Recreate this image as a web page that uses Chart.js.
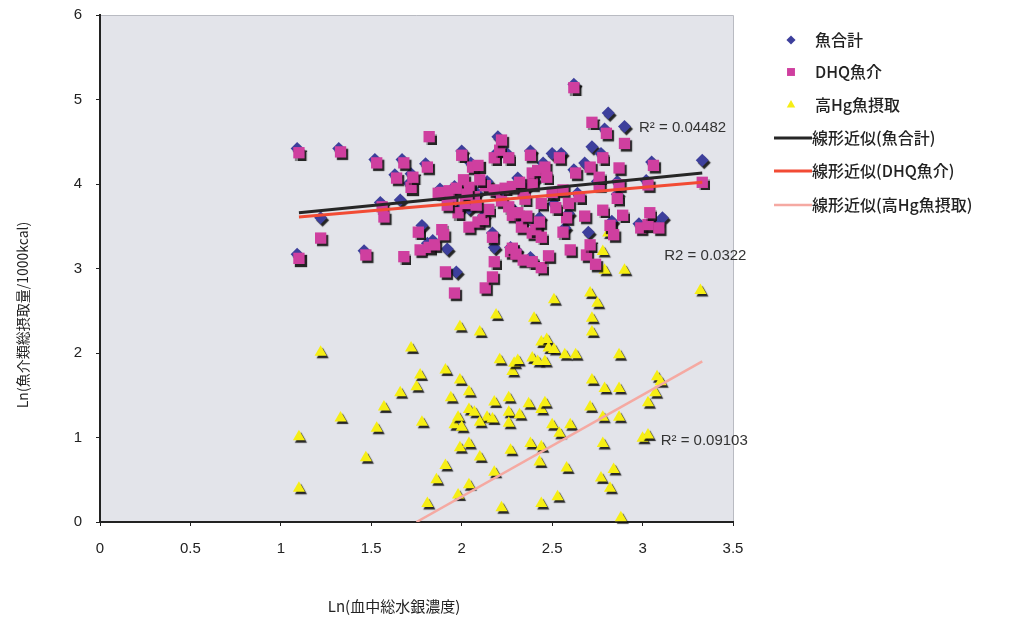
<!DOCTYPE html>
<html lang="ja">
<head>
<meta charset="utf-8">
<title>魚介類摂取量と血中総水銀濃度</title>
<script src="https://cdn.jsdelivr.net/npm/chart.js@4.4.1/dist/chart.umd.min.js"></script>
<style>
  html, body { margin: 0; padding: 0; background: #ffffff; }
  #wrap { position: relative; width: 1017px; height: 634px; }
</style>
</head>
<body>
<div id="wrap"><canvas id="chart" width="1017" height="634"></canvas></div>
<script>
// 系列名
const seriesNames = ['魚合計', 'DHQ魚介', '高Hg魚摂取', '線形近似(魚合計)', '線形近似(DHQ魚介)', '線形近似(高Hg魚摂取)'];

// DHQ魚介 (ピンクの四角)
const dhqX = [1.10, 1.10, 1.22, 1.33, 1.47, 1.53, 1.56, 1.57, 1.64, 1.68, 1.68, 1.72, 1.73, 1.76, 1.77, 1.81, 1.82, 1.82, 1.85, 1.87,
  1.89, 1.89, 1.90, 1.91, 1.93, 1.94, 1.96, 1.98, 2.00, 2.01, 2.02, 2.04, 2.04, 2.06, 2.07, 2.09, 2.09, 2.12, 2.13, 2.13,
  2.15, 2.17, 2.17, 2.18, 2.18, 2.18, 2.21, 2.22, 2.22, 2.24, 2.26, 2.26, 2.27, 2.28, 2.28, 2.30, 2.31, 2.33, 2.34, 2.34,
  2.36, 2.38, 2.39, 2.39, 2.39, 2.39, 2.41, 2.42, 2.43, 2.44, 2.44, 2.44, 2.46, 2.47, 2.50, 2.54, 2.56, 2.56, 2.59, 2.60,
  2.58, 2.62, 2.63, 2.69, 2.71, 2.71, 2.72, 2.76, 2.76, 2.78, 2.78, 2.80, 2.82, 2.84, 2.86, 2.87, 2.87, 2.89, 2.90, 2.99,
  3.03, 3.03, 3.04, 3.06, 3.09, 3.33, 1.97, 2.03, 2.08, 2.10, 1.92, 2.28, 2.32, 2.35, 2.52, 2.65, 2.68, 2.74, 2.48];
const dhqY = [4.37, 3.12, 3.36, 4.38, 3.16, 4.25, 3.73, 3.61, 4.07, 4.25, 3.14, 3.96, 4.08, 3.43, 3.22, 4.20, 4.56, 3.25, 3.28, 3.89,
  3.90, 3.46, 3.40, 2.96, 3.92, 3.81, 2.71, 3.66, 4.34, 4.05, 3.77, 3.49, 3.96, 4.20, 3.85, 4.22, 3.55, 3.58, 2.77, 3.98,
  3.70, 2.90, 3.37, 3.08, 4.31, 3.93, 4.40, 4.52, 3.80, 3.95, 4.31, 3.73, 3.20, 3.63, 3.24, 3.17, 3.66, 3.49, 3.10, 3.90,
  3.62, 4.34, 4.13, 4.00, 3.42, 3.08, 3.46, 4.16, 3.55, 3.77, 3.37, 3.01, 4.20, 4.08, 3.90, 4.31, 3.93, 3.43, 3.77, 3.22,
  3.60, 5.14, 4.13, 3.16, 3.28, 4.20, 4.73, 3.99, 4.08, 4.31, 3.69, 4.60, 3.51, 3.40, 3.83, 4.19, 3.99, 3.63, 4.48, 3.48,
  3.52, 3.99, 3.66, 4.22, 3.48, 4.02, 3.95, 3.88, 3.75, 4.05, 3.75, 3.97, 4.02, 3.82, 3.72, 3.85, 3.62, 3.05, 3.15];

// 魚合計 (青いひし形)
const totalX = [1.09, 1.09, 1.22, 1.32, 1.46, 1.52, 1.55, 1.66, 1.63, 1.67, 1.71, 1.72, 1.78, 1.80, 1.81, 1.84, 1.88, 1.92, 1.97, 1.99,
  2.00, 2.03, 2.04, 2.05, 2.08, 2.12, 2.14, 2.17, 2.18, 2.19, 2.20, 2.21, 2.25, 2.27, 2.29, 2.30, 2.33, 2.35, 2.38, 2.38,
  2.40, 2.41, 2.43, 2.45, 2.46, 2.50, 2.55, 2.57, 2.59, 2.62, 2.62, 2.68, 2.70, 2.72, 2.75, 2.77, 2.81, 2.79, 2.83, 2.86,
  2.86, 2.90, 2.98, 3.02, 3.05, 3.11, 3.08, 3.33, 1.96, 2.07, 2.31, 2.51, 2.64];
const totalY = [4.42, 3.17, 3.60, 4.42, 3.21, 4.29, 3.78, 3.81, 4.11, 4.29, 4.01, 4.12, 3.51, 4.24, 3.30, 3.33, 3.94, 3.23, 2.96, 3.71,
  4.39, 3.81, 3.71, 4.25, 3.90, 3.62, 4.03, 3.42, 3.25, 4.36, 4.56, 3.85, 4.36, 3.25, 3.69, 3.22, 3.54, 3.95, 4.39, 3.13,
  4.05, 3.51, 3.60, 4.25, 4.13, 4.36, 4.36, 3.48, 3.65, 5.18, 4.17, 4.25, 3.43, 4.44, 4.03, 4.36, 4.84, 4.65, 3.56, 3.88,
  4.03, 4.68, 3.53, 4.04, 4.26, 3.60, 3.52, 4.28, 3.97, 3.79, 4.07, 3.77, 3.89];

// 高Hg魚摂取 (黄色の三角)
const hgX = [1.10, 1.10, 1.22, 1.33, 1.47, 1.53, 1.57, 1.66, 1.72, 1.75, 1.77, 1.78, 1.81, 1.86, 1.91, 1.91, 1.94, 1.96, 1.98, 1.98,
  1.99, 1.99, 1.99, 2.00, 2.04, 2.04, 2.04, 2.04, 2.07, 2.10, 2.10, 2.14, 2.17, 2.18, 2.18, 2.19, 2.21, 2.22, 2.26, 2.26,
  2.26, 2.27, 2.28, 2.29, 2.31, 2.32, 2.38, 2.39, 2.40, 2.42, 2.43, 2.44, 2.44, 2.44, 2.44, 2.46, 2.46, 2.47, 2.48, 2.50,
  2.51, 2.51, 2.53, 2.54, 2.57, 2.58, 2.60, 2.63, 2.71, 2.71, 2.72, 2.72, 2.72, 2.75, 2.77, 2.78, 2.78, 2.78, 2.79, 2.79,
  2.81, 2.82, 2.84, 2.87, 2.87, 2.87, 2.88, 2.90, 3.00, 3.03, 3.03, 3.07, 3.08, 3.10, 3.32, 2.37, 2.10];
const hgY = [1.01, 0.40, 2.01, 1.23, 0.76, 1.11, 1.36, 1.53, 2.06, 1.60, 1.74, 1.18, 0.22, 0.50, 1.80, 0.67, 1.47, 1.15, 1.24, 0.32,
  2.31, 1.68, 0.88, 1.12, 1.54, 1.33, 0.93, 0.44, 1.30, 2.25, 0.77, 1.24, 1.22, 1.42, 0.59, 2.45, 1.92, 0.17, 1.47, 1.30,
  1.17, 0.85, 1.78, 1.88, 1.91, 1.27, 0.93, 1.94, 2.41, 1.90, 0.71, 2.13, 1.33, 0.89, 0.22, 1.41, 1.90, 2.16, 2.06, 1.15,
  2.63, 2.04, 0.30, 1.05, 1.98, 0.64, 1.15, 1.98, 2.71, 1.36, 2.41, 2.25, 1.68, 2.59, 0.52, 3.20, 1.24, 0.93, 2.98, 1.58,
  3.42, 0.40, 0.62, 1.98, 1.58, 1.24, 0.05, 2.98, 0.99, 1.03, 1.41, 1.53, 1.72, 1.66, 2.74, 1.40, 1.18];

// 近似直線の両端
const trendTotalX = [1.10, 3.33];
const trendTotalY = [3.66, 4.13];
const trendDhqX = [1.10, 3.33];
const trendDhqY = [3.61, 4.02];
const trendHgX = [1.75, 3.33];
const trendHgY = [0.00, 1.90];

// R² 表示 (データ座標)
const r2Labels = ['R² = 0.04482', 'R2 = 0.0322', 'R² = 0.09103'];
const r2X = [2.98, 3.12, 3.10];
const r2Y = [4.67, 3.15, 0.96];

function toPoints(xs, ys) {
    return xs.map((x, i) => ({ x: x, y: ys[i] }));
}

const cjk = '"Noto Sans CJK JP", "Noto Sans", sans-serif';
const narrow = '"Liberation Sans Narrow", "Liberation Sans", Arial, sans-serif';

// 背景・枠・影・凡例・ラベルの描画
const decorPlugin = {
    id: 'decor',
    beforeDraw(chart) {
        const ctx = chart.ctx;
        const a = chart.chartArea;
        ctx.save();
        ctx.fillStyle = '#e3e4ea';
        ctx.fillRect(a.left, a.top, a.right - a.left, a.bottom - a.top);
        ctx.strokeStyle = '#b9bbc2';
        ctx.lineWidth = 1;
        ctx.beginPath();
        ctx.moveTo(a.left, a.top + 0.5);
        ctx.lineTo(a.right + 0.5, a.top + 0.5);
        ctx.lineTo(a.right + 0.5, a.bottom);
        ctx.stroke();
        ctx.restore();
    },
    beforeDatasetDraw(chart, args) {
        const ds = chart.data.datasets[args.index];
        if (ds.showLine) return;
        const ctx = chart.ctx;
        ctx.save();
        ctx.shadowColor = 'rgba(15,15,15,0.9)';
        ctx.shadowOffsetX = 2;
        ctx.shadowOffsetY = 2.5;
        ctx.shadowBlur = 1;
    },
    afterDatasetDraw(chart, args) {
        const ds = chart.data.datasets[args.index];
        if (ds.showLine) return;
        chart.ctx.restore();
    },
    afterDraw(chart) {
        const ctx = chart.ctx;
        const xs = chart.scales.x;
        const ys = chart.scales.y;
        ctx.save();

        // R² ラベル
        ctx.fillStyle = '#333';
        ctx.font = '15px ' + narrow;
        ctx.textBaseline = 'middle';
        ctx.textAlign = 'left';
        r2Labels.forEach((t, i) => {
            ctx.fillText(t, xs.getPixelForValue(r2X[i]), ys.getPixelForValue(r2Y[i]));
        });

        // 軸タイトル
        ctx.fillStyle = '#222';
        ctx.font = '15px ' + cjk;
        ctx.textAlign = 'center';
        ctx.fillText('Ln(血中総水銀濃度)', 394, 606);
        ctx.save();
        ctx.translate(23, 315);
        ctx.rotate(-Math.PI / 2);
        ctx.font = '14px ' + cjk;
        ctx.fillText('Ln(魚介類総摂取量/1000kcal)', 0, 0);
        ctx.restore();

        // 凡例
        const rowY = [40, 72, 105, 138, 171, 205];
        ctx.font = '500 16px ' + cjk;
        ctx.textAlign = 'left';
        chart.data.datasets.forEach((ds, i) => {
            const y = rowY[i];
            if (ds.showLine) {
                ctx.strokeStyle = ds.borderColor;
                ctx.lineWidth = ds.borderWidth;
                ctx.beginPath();
                ctx.moveTo(774, y);
                ctx.lineTo(812, y);
                ctx.stroke();
                ctx.fillStyle = '#222';
                ctx.fillText(ds.label, 812, y);
            } else {
                ctx.fillStyle = ds.backgroundColor;
                Chart.helpers.drawPoint(ctx, {
                    pointStyle: ds.pointStyle,
                    radius: ds.pointRadius * 0.7,
                    borderWidth: 0
                }, 791, y);
                ctx.fillStyle = '#222';
                ctx.fillText(ds.label, 815, y);
            }
        });
        ctx.restore();
    }
};

const ctx = document.getElementById('chart').getContext('2d');
const chart = new Chart(ctx, {
    type: 'scatter',
    data: {
        datasets: [
            {
                label: seriesNames[0],
                data: toPoints(totalX, totalY),
                pointStyle: 'rectRot',
                pointRadius: 6.5,
                pointHoverRadius: 6.5,
                backgroundColor: '#3d3f9c',
                borderWidth: 0,
                order: 3,
                clip: false
            },
            {
                label: seriesNames[1],
                data: toPoints(dhqX, dhqY),
                pointStyle: 'rect',
                pointRadius: 8,
                pointHoverRadius: 8,
                backgroundColor: '#cf3f9f',
                borderWidth: 0,
                order: 2,
                clip: false
            },
            {
                label: seriesNames[2],
                data: toPoints(hgX, hgY),
                pointStyle: 'triangle',
                pointRadius: 7,
                pointHoverRadius: 7,
                backgroundColor: '#f6ee14',
                borderWidth: 0,
                order: 2,
                clip: false
            },
            {
                label: seriesNames[3],
                data: toPoints(trendTotalX, trendTotalY),
                showLine: true,
                pointRadius: 0,
                borderColor: '#262626',
                borderWidth: 3,
                order: 1
            },
            {
                label: seriesNames[4],
                data: toPoints(trendDhqX, trendDhqY),
                showLine: true,
                pointRadius: 0,
                borderColor: '#f24b34',
                borderWidth: 3,
                order: 0
            },
            {
                label: seriesNames[5],
                data: toPoints(trendHgX, trendHgY),
                showLine: true,
                pointRadius: 0,
                borderColor: '#f5a9a2',
                borderWidth: 2.5,
                order: 0
            }
        ]
    },
    options: {
        responsive: false,
        animation: false,
        events: [],
        layout: { padding: { left: 0, top: 15, right: 284, bottom: 0 } },
        plugins: {
            legend: { display: false },
            tooltip: { enabled: false }
        },
        scales: {
            x: {
                type: 'linear',
                min: 0,
                max: 3.5,
                ticks: {
                    stepSize: 0.5,
                    padding: 14,
                    color: '#222',
                    font: { family: narrow, size: 15 },
                    callback: (v) => String(v)
                },
                grid: { drawOnChartArea: false, tickLength: 4, color: '#222' },
                border: { color: '#222', width: 2 },
                afterFit(scale) {
                    scale.height = 112;
                    scale.paddingLeft = 0;
                    scale.paddingRight = 0;
                }
            },
            y: {
                type: 'linear',
                min: 0,
                max: 6,
                ticks: {
                    stepSize: 1,
                    padding: 14,
                    color: '#222',
                    font: { family: narrow, size: 15 },
                    callback: (v) => String(v)
                },
                grid: { drawOnChartArea: false, tickLength: 4, color: '#222' },
                border: { color: '#222', width: 2 },
                afterFit(scale) {
                    scale.width = 100;
                    scale.paddingTop = 0;
                    scale.paddingBottom = 0;
                }
            }
        }
    },
    plugins: [decorPlugin]
});
</script>
</body>
</html>
